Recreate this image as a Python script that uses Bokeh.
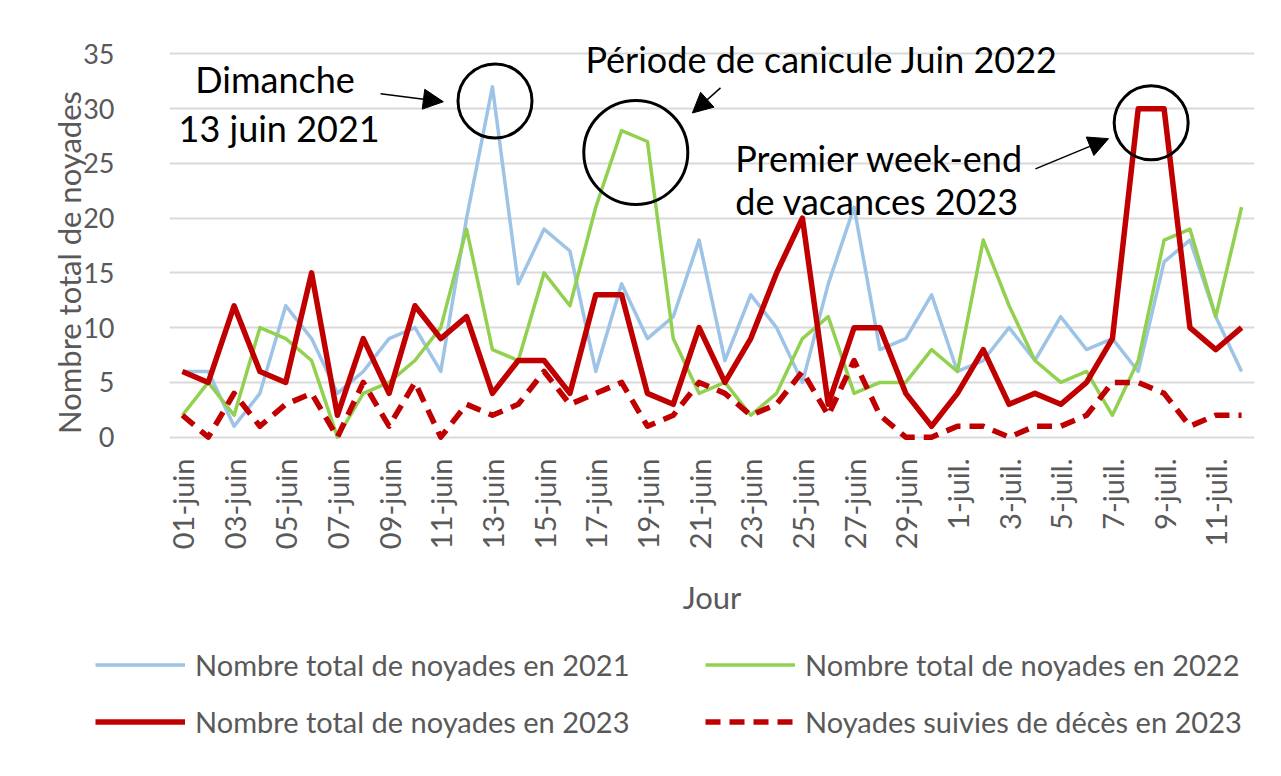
import math
from bokeh.plotting import figure
from bokeh.layouts import column, row
from bokeh.models import (Range1d, FixedTicker, Legend, LegendItem, Arrow,
                          NormalHead, Label)
from bokeh.embed import file_html
from bokeh.resources import INLINE

# ---------------- data ----------------
jours = ["01-juin", "02-juin", "03-juin", "04-juin", "05-juin", "06-juin",
         "07-juin", "08-juin", "09-juin", "10-juin", "11-juin", "12-juin",
         "13-juin", "14-juin", "15-juin", "16-juin", "17-juin", "18-juin",
         "19-juin", "20-juin", "21-juin", "22-juin", "23-juin", "24-juin",
         "25-juin", "26-juin", "27-juin", "28-juin", "29-juin", "30-juin",
         "1-juil.", "2-juil.", "3-juil.", "4-juil.", "5-juil.", "6-juil.",
         "7-juil.", "8-juil.", "9-juil.", "10-juil.", "11-juil.", "12-juil."]

noyades_2021 = [6, 6, 1, 4, 12, 9, 4, 6, 9, 10, 6, 20, 32, 14, 19, 17, 6, 14,
                9, 11, 18, 7, 13, 10, 5, 14, 21, 8, 9, 13, 6, 7, 10, 7, 11, 8,
                9, 6, 16, 18, 11, 6]
noyades_2022 = [2, 5, 2, 10, 9, 7, 0, 4, 5, 7, 10, 19, 8, 7, 15, 12, 21, 28,
                27, 9, 4, 5, 2, 4, 9, 11, 4, 5, 5, 8, 6, 18, 12, 7, 5, 6, 2, 7,
                18, 19, 11, 21]
noyades_2023 = [6, 5, 12, 6, 5, 15, 2, 9, 4, 12, 9, 11, 4, 7, 7, 4, 13, 13, 4,
                3, 10, 5, 9, 15, 20, 3, 10, 10, 4, 1, 4, 8, 3, 4, 3, 5, 9, 30,
                30, 10, 8, 10]
deces_2023 = [2, 0, 4, 1, 3, 4, 0, 5, 1, 5, 0, 3, 2, 3, 6, 3, 4, 5, 1, 2, 5, 4,
              2, 3, 6, 2, 7, 2, 0, 0, 1, 1, 0, 1, 1, 2, 5, 5, 4, 1, 2, 2]

y_ticks = [0, 5, 10, 15, 20, 25, 30, 35]

noms_series = ["Nombre total de noyades en 2021",
               "Nombre total de noyades en 2022",
               "Nombre total de noyades en 2023",
               "Noyades suivies de décès en 2023"]

# ---------------- styles ----------------
FONT = "Lato"
GREY_TXT = "#595959"
STYLES = [dict(line_color="#9dc3e6", line_width=3.5),
          dict(line_color="#92d050", line_width=3.5),
          dict(line_color="#c00000", line_width=5.5),
          dict(line_color="#c00000", line_width=5.5, line_dash="15 9")]

x = list(range(len(jours)))

# ---------------- main figure ----------------
p = figure(width=1273, height=638,
           x_range=Range1d(-0.5, len(jours) - 0.5),
           y_range=Range1d(-5.6, 37.5),
           output_backend="svg", toolbar_location=None,
           min_border_left=169, min_border_right=19,
           min_border_top=26, min_border_bottom=140)
p.outline_line_color = None
p.background_fill_color = "white"
p.border_fill_color = "white"

p.xgrid.grid_line_color = None
p.ygrid.grid_line_color = "#d9d9d9"
p.ygrid.grid_line_width = 2

p.yaxis.ticker = FixedTicker(ticks=y_ticks)
p.yaxis.axis_line_color = None
p.yaxis.major_tick_line_color = None
p.yaxis.minor_tick_line_color = None
p.yaxis.major_label_standoff = 49
p.yaxis.major_label_text_font = FONT
p.yaxis.major_label_text_font_size = "27px"
p.yaxis.major_label_text_color = GREY_TXT
p.yaxis.axis_label = "Nombre total de noyades"
p.yaxis.axis_label_text_font = FONT
p.yaxis.axis_label_text_font_size = "31px"
p.yaxis.axis_label_text_font_style = "normal"
p.yaxis.axis_label_text_color = GREY_TXT
p.yaxis.axis_label_standoff = -8

p.xaxis.ticker = FixedTicker(ticks=list(range(0, len(jours), 2)))
p.xaxis.major_label_overrides = {i: jours[i] for i in range(0, len(jours), 2)}
p.xaxis.major_label_orientation = math.pi / 2
p.xaxis.axis_line_color = None
p.xaxis.major_tick_line_color = None
p.xaxis.minor_tick_line_color = None
p.xaxis.major_label_standoff = -46
p.xaxis.major_label_text_font = FONT
p.xaxis.major_label_text_font_size = "29px"
p.xaxis.major_label_text_color = GREY_TXT
p.xaxis.axis_label = "Jour"
p.xaxis.axis_label_text_font = FONT
p.xaxis.axis_label_text_font_size = "31px"
p.xaxis.axis_label_text_font_style = "normal"
p.xaxis.axis_label_text_color = GREY_TXT
p.xaxis.axis_label_standoff = 26

series = [noyades_2021, noyades_2022, noyades_2023, deces_2023]
for ys, st in zip(series, STYLES):
    p.line(x, ys, line_join="round", **st)

# annotations: circles
p.scatter(x=[12.1], y=[30.7], size=74, marker="circle", fill_color=None,
          line_color="black", line_width=3)
p.scatter(x=[17.55], y=[26.0], size=104, marker="circle", fill_color=None,
          line_color="black", line_width=3)
p.scatter(x=[37.5], y=[28.7], size=74, marker="circle", fill_color=None,
          line_color="black", line_width=3)

# arrows
for xs, ys_, xe, ye in [(7.67, 31.36, 10.1, 30.63),
                        (20.83, 31.9, 19.74, 29.6),
                        (33.02, 24.5, 35.85, 27.26)]:
    p.add_layout(Arrow(end=NormalHead(size=20, fill_color="black",
                                      line_color="black"),
                       x_start=xs, y_start=ys_, x_end=xe, y_end=ye,
                       line_color="black", line_width=1.5))

# texts
for tx, ty, txt in [(0.5, 32.7, "Dimanche"),
                    (-0.15, 28.2, "13 juin 2021"),
                    (15.6, 34.55, "Période de canicule Juin 2022"),
                    (21.4, 25.5, "Premier week-end"),
                    (21.4, 21.6, "de vacances 2023")]:
    p.add_layout(Label(x=tx, y=ty, text=txt, text_font=FONT,
                       text_font_size="36px", text_color="black",
                       text_baseline="middle", text_align="left"))

# ---------------- legend figure ----------------
pl = figure(width=1273, height=130, x_range=Range1d(0, 1),
            y_range=Range1d(0, 1), x_axis_type=None, y_axis_type=None,
            output_backend="svg", toolbar_location=None,
            min_border=0)
pl.outline_line_color = None
pl.xgrid.grid_line_color = None
pl.ygrid.grid_line_color = None
nan = float("nan")
leg_r = [pl.line([nan], [nan], **st) for st in STYLES]

legend = Legend(items=[LegendItem(label=noms_series[i], renderers=[leg_r[i]])
                       for i in range(4)],
                orientation="horizontal", ncols=2,
                location=(95, 28), glyph_width=90, glyph_height=37,
                label_height=37, label_width=490, spacing=20, padding=0,
                margin=0, label_standoff=10, border_line_color=None,
                background_fill_alpha=0, label_text_font=FONT,
                label_text_font_size="29px", label_text_color=GREY_TXT)
pl.add_layout(legend)

layout = column(p, row(pl), spacing=0)
open("out.html", "w").write(file_html(layout, INLINE))
